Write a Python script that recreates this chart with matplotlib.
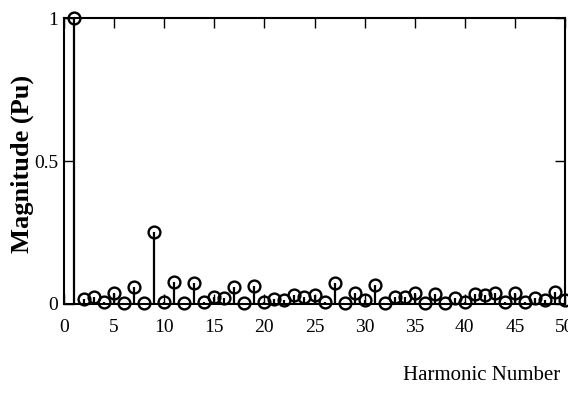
import matplotlib
matplotlib.use("Agg")
import matplotlib.pyplot as plt

# Harmonic spectrum (per-unit magnitude of each harmonic order)
harmonics = list(range(1, 51))
magnitudes = [
    1.000, 0.016, 0.026, 0.008, 0.040, 0.005, 0.058, 0.005, 0.253, 0.008,
    0.078, 0.005, 0.072, 0.008, 0.026, 0.020, 0.060, 0.005, 0.062, 0.008,
    0.016, 0.014, 0.031, 0.026, 0.030, 0.008, 0.075, 0.005, 0.037, 0.014,
    0.065, 0.005, 0.026, 0.026, 0.037, 0.005, 0.035, 0.005, 0.020, 0.008,
    0.035, 0.030, 0.038, 0.008, 0.038, 0.008, 0.020, 0.014, 0.043, 0.014,
]
x_ticks = [0, 5, 10, 15, 20, 25, 30, 35, 40, 45, 50]
y_ticks = [0, 0.5, 1]
y_tick_labels = ["0", "0.5", "1"]

plt.rcParams["font.family"] = ["Liberation Serif", "DejaVu Serif"]

fig = plt.figure(figsize=(5.68, 3.95), dpi=100)
ax = fig.add_axes([0.1127, 0.2304, 0.882, 0.724])

markerline, stemlines, baseline = ax.stem(harmonics, magnitudes, basefmt=" ")
plt.setp(stemlines, color="black", linewidth=1.6)
plt.setp(markerline, marker="o", markersize=8.5, markerfacecolor="none",
         markeredgecolor="black", markeredgewidth=1.7, linestyle="none")
markerline.set_clip_on(False)

ax.set_xlim(0, 50)
ax.set_ylim(0, 1)
ax.set_xticks(x_ticks)
ax.set_yticks(y_ticks)
ax.set_yticklabels(y_tick_labels)
ax.tick_params(direction="in", top=True, right=True, length=7, width=1.0,
               labelsize=14)
ax.tick_params(axis="x", pad=11)
ax.tick_params(axis="y", pad=4)
for s in ax.spines.values():
    s.set_linewidth(1.5)

ax.set_ylabel("Magnitude (Pu)", fontsize=19, fontweight="bold")
ax.yaxis.set_label_coords(-0.06, 0.49)
fig.text(0.986, 0.038, "Harmonic Number", ha="right", va="baseline", fontsize=15)

fig.savefig("out.png", dpi=100)
